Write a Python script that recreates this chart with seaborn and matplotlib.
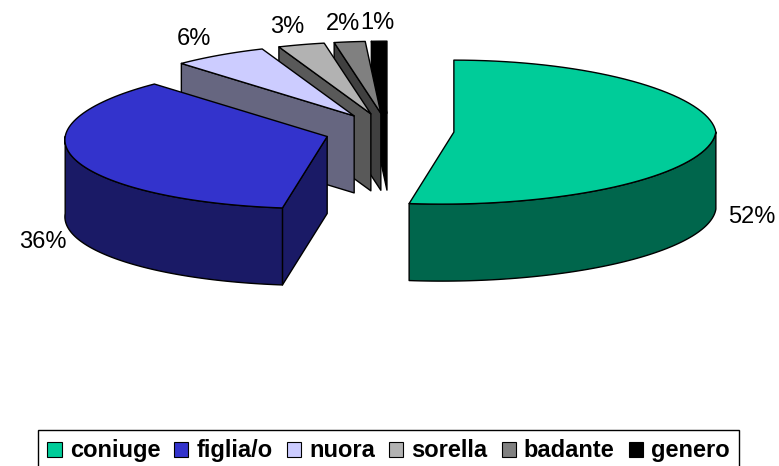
import numpy as np
import matplotlib
matplotlib.use("Agg")
import matplotlib.pyplot as plt
import seaborn as sns
from matplotlib.patches import Polygon, Patch

sns.set_style("white")
plt.rcParams['font.family'] = ['Liberation Sans', 'DejaVu Sans']
plt.rcParams['text.color'] = 'black'

# data
categories = ['coniuge', 'figlia/o', 'nuora', 'sorella', 'badante', 'genero']
shares = [52, 36, 6, 3, 2, 1]
pct_labels = ['52%', '36%', '6%', '3%', '2%', '1%']
top_colors = ['#00CC99', '#3333CC', '#CCCCFF', '#B2B2B2', '#808080', '#000000']
side_colors = ['#00664C', '#1A1A66', '#666680', '#595959', '#404040', '#000000']

# 3d pie geometry (pixel space)
CX, CY = 389, 131
RX, RY = 262, 72
DEPTH = 77
EXPLODE = 65
K = RY / RX
BACK_SQUEEZE = 0.05   # back of the pie a bit narrower
FRONT_SHIFT = 12      # front of the pie leans left

fig = plt.figure(figsize=(7.79, 4.66), dpi=100)
ax = fig.add_axes([0, 0, 1, 1])
ax.set_xlim(0, 779)
ax.set_ylim(466, 0)
ax.axis('off')


def proj(vx, vy, t):
    c, s = np.cos(t), np.sin(t)
    x = vx + RX * c * (1 - BACK_SQUEEZE * np.clip(s, 0, None)) + FRONT_SHIFT * np.clip(s, None, 0)
    y = vy - RY * s
    return x, y


def arc(vx, vy, a1, a2, n=80, dy=0):
    t = np.radians(np.linspace(a1, a2, n))
    x, y = proj(vx, vy, t)
    return np.column_stack([x, y + dy])


def add_poly(pts, color):
    ax.add_patch(Polygon(pts, closed=True, facecolor=color, edgecolor='black', lw=1, joinstyle='round'))


total = sum(shares)
starts = 90 - 360 * np.concatenate([[0], np.cumsum(shares)[:-1]]) / total
ends = starts - 360 * np.array(shares) / total
mids = (starts + ends) / 2

order = np.argsort(-np.sin(np.radians(mids)))
for i in order:
    t1, t2, m = starts[i], ends[i], mids[i]
    mr = np.radians(m)
    vx = CX + EXPLODE * np.cos(mr)
    vy = CY - EXPLODE * K * np.sin(mr)

    # radial cut faces
    for edge, vis in [(t1, np.cos(np.radians(t1)) < -1e-6), (t2, np.cos(np.radians(t2)) > 1e-6)]:
        if vis:
            ex, ey = proj(vx, vy, np.radians(edge))
            add_poly([[vx, vy], [ex, ey], [ex, ey + DEPTH], [vx, vy + DEPTH]], side_colors[i])

    # outer front wall
    for lo, hi in [(-180, 0), (-540, -360), (180, 360)]:
        a = max(t2, lo)
        b = min(t1, hi)
        if b > a:
            top = arc(vx, vy, a, b)
            bot = arc(vx, vy, b, a, dy=DEPTH)
            add_poly(np.vstack([top, bot]), side_colors[i])

    # top face
    add_poly(np.vstack([[[vx, vy]], arc(vx, vy, t1, t2)]), top_colors[i])

    # percentage label
    r = 1.14
    lx = vx + r * RX * np.cos(mr)
    ly = vy - r * RY * np.sin(mr)
    ly += DEPTH + 3 if np.sin(mr) < 0 else -8
    ax.text(lx, ly, pct_labels[i], ha='center', va='center', fontsize=17)

handles = [Patch(facecolor=c, edgecolor='black', lw=0.8, label=l) for c, l in zip(top_colors, categories)]
fig.legend(handles=handles, loc='upper left', bbox_to_anchor=(38 / 779, 1 - 430 / 466), ncol=6,
           frameon=True, fancybox=False, edgecolor='black', framealpha=1,
           prop=dict(family='Liberation Sans', weight='bold', size=17),
           handlelength=0.6, handleheight=0.6, handletextpad=0.34,
           columnspacing=0.6, borderpad=0.4, borderaxespad=0)

fig.savefig('out.png', dpi=100)
